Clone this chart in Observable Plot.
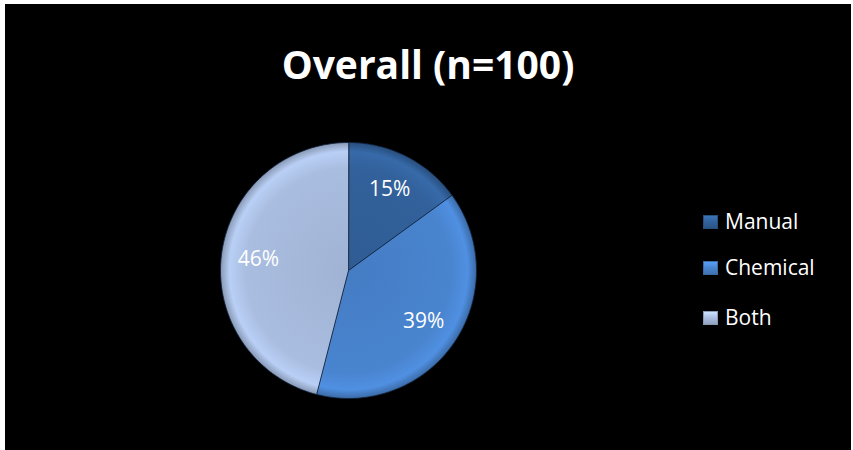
<!DOCTYPE html>
<html>
<head>
<meta charset="utf-8">
<script src="https://cdn.jsdelivr.net/npm/d3@7"></script>
<script src="https://cdn.jsdelivr.net/npm/@observablehq/plot@0.6"></script>
<style>
  html, body { margin: 0; padding: 0; background: #fff; width: 853px; height: 450px; overflow: hidden; }
  #box { position: absolute; left: 5px; top: 4px; width: 846px; height: 446px; background: #000; }
  #title { position: absolute; left: 0; top: 34px; width: 846px; text-align: center; color: #fff;
           font-family: "Open Sans", sans-serif; font-weight: 700; font-size: 39px; line-height: 52px; }
  #chart { position: absolute; left: 0; top: 100px; }
  #legend { position: absolute; left: 698px; top: 0; font-family: "Open Sans", sans-serif; font-size: 21px; color: #fff; }
  .item { position: absolute; left: 0; white-space: nowrap; height: 26px; line-height: 26px; }
  .sw { position: absolute; left: 0; top: 6px; width: 15px; height: 14px; box-sizing: border-box; }
  .lbl { position: absolute; left: 22px; top: -1px; }
</style>
</head>
<body>
<div id="box">
  <div id="title">Overall (n=100)</div>
  <div id="chart"></div>
  <div id="legend"></div>
</div>
<script>
const categories = ["Manual", "Chemical", "Both"];
const values = [15, 39, 46];
const valueLabels = ["15%", "39%", "46%"];
const colors = ["#32619b", "#4984cf", "#a9bde0"];

const pieData = d3.pie().sort(null).value(d => d)(values);

// slice outlines built from the pie angles
const slicePts = [];
pieData.forEach((p, i) => {
  slicePts.push({cat: categories[i], x: 0, y: 0});
  const n = 90;
  for (let k = 0; k <= n; k++) {
    const a = p.startAngle + (p.endAngle - p.startAngle) * k / n;
    slicePts.push({cat: categories[i], x: Math.sin(a), y: Math.cos(a)});
  }
});
const labelPts = pieData.map((p, i) => {
  const a = (p.startAngle + p.endAngle) / 2;
  const r = 0.71;
  return {label: valueLabels[i], x: Math.sin(a) * r, y: Math.cos(a) * r};
});

const cx = 343, cy = 166, R = 128;
const W = 846, H = 346;

const plot = Plot.plot({
  width: W, height: H,
  margin: 0,
  x: {domain: [-1, 1], range: [cx - R, cx + R], axis: null},
  y: {domain: [-1, 1], range: [cy + R, cy - R], axis: null},
  style: {background: "transparent"},
  marks: [
    ...categories.map((c, i) =>
      Plot.line(slicePts.filter(d => d.cat === c), {
        x: "x", y: "y", curve: "linear-closed",
        fill: `url(#grad${i})`, stroke: "#10213a", strokeWidth: 1, strokeOpacity: 0.8
      })
    ),
    Plot.text(labelPts, {x: "x", y: "y", text: "label", fill: "#fff",
      fontSize: 21, fontFamily: "Open Sans, sans-serif"})
  ]
});

// radial bevel gradients centred on the pie
const sx = plot.scale("x"), sy = plot.scale("y");
const pcx = sx.apply(0), pcy = sy.apply(0), pr = sx.apply(1) - sx.apply(0);
const svg = d3.select(plot);
const defs = svg.insert("defs", ":first-child");
colors.forEach((col, i) => {
  const g = defs.append("radialGradient").attr("id", "grad" + i)
    .attr("gradientUnits", "userSpaceOnUse")
    .attr("cx", pcx).attr("cy", pcy).attr("r", pr);
  const c = d3.color(col);
  g.append("stop").attr("offset", "0%").attr("stop-color", c.darker(0.15).formatHex());
  g.append("stop").attr("offset", "80%").attr("stop-color", c.formatHex());
  g.append("stop").attr("offset", "93%").attr("stop-color", c.brighter(0.25).formatHex());
  g.append("stop").attr("offset", "100%").attr("stop-color", c.darker(0.6).formatHex());
});
document.getElementById("chart").appendChild(plot);

// legend
const legend = document.getElementById("legend");
const legendTops = [205, 251, 301];
categories.forEach((c, i) => {
  const item = document.createElement("div");
  item.className = "item";
  item.style.top = legendTops[i] + "px";
  const sw = document.createElement("div");
  sw.className = "sw";
  const col = d3.color(colors[i]);
  sw.style.background = `linear-gradient(${col.brighter(0.5).formatHex()}, ${col.formatHex()} 50%, ${col.darker(0.4).formatHex()})`;
  sw.style.border = `1px solid ${col.darker(0.6).formatHex()}`;
  const lb = document.createElement("span");
  lb.className = "lbl";
  lb.textContent = c;
  item.appendChild(sw);
  item.appendChild(lb);
  legend.appendChild(item);
});
</script>
</body>
</html>
